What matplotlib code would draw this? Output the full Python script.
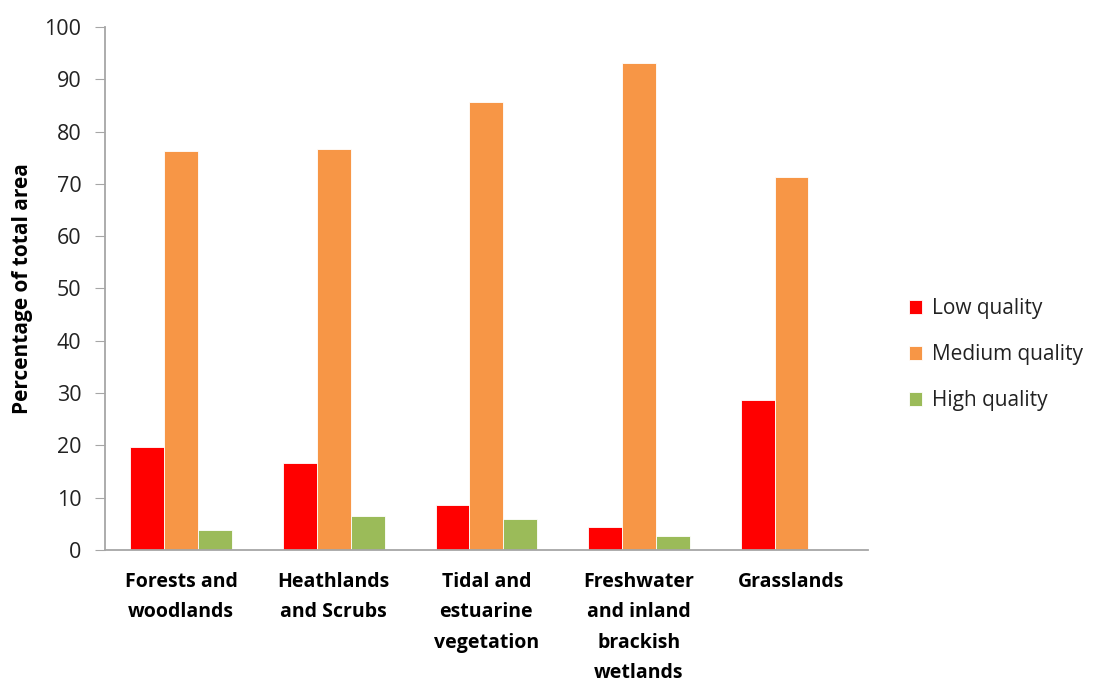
import matplotlib.pyplot as plt
import numpy as np

plt.rcParams['font.family'] = ['Open Sans', 'DejaVu Sans']

habitats = ['Forests and\nwoodlands', 'Heathlands\nand Scrubs', 'Tidal and\nestuarine\nvegetation',
            'Freshwater\nand inland\nbrackish\nwetlands', 'Grasslands']
low_quality = [19.6, 16.6, 8.5, 4.3, 28.7]
medium_quality = [76.2, 76.7, 85.7, 93.1, 71.3]
high_quality = [3.8, 6.4, 5.9, 2.6, 0.0]

series = [('Low quality', low_quality, '#FF0000'),
          ('Medium quality', medium_quality, '#F79646'),
          ('High quality', high_quality, '#9BBB59')]

fig = plt.figure(figsize=(10.93, 6.84), dpi=100)
ax = fig.add_axes([0.096, 0.196, 0.698, 0.7645])

x = np.arange(len(habitats))
w = 0.222
for i, (name, vals, col) in enumerate(series):
    ax.bar(x + (i - 1) * w, vals, w, color=col, edgecolor='white', linewidth=0.6, label=name)

ax.set_xlim(-0.5, len(habitats) - 0.5)
ax.set_ylim(0, 100)
ax.set_yticks(range(0, 101, 10))
ax.set_xticks(x)
ax.set_xticklabels(habitats, fontsize=14, fontweight='bold', linespacing=1.68)
ax.tick_params(axis='x', length=0, pad=16)
ax.tick_params(axis='y', labelsize=15.5, length=7, color='#A6A6A6', pad=10)
for lab in ax.get_yticklabels():
    lab.set_color('#222222')

for s in ['top', 'right']:
    ax.spines[s].set_visible(False)
for s in ['left', 'bottom']:
    ax.spines[s].set_color('#A6A6A6')
    ax.spines[s].set_linewidth(1.3)

ax.set_ylabel('Percentage of total area', fontsize=15, fontweight='bold')
ax.yaxis.set_label_coords(-0.094, 0.5)

leg = ax.legend(loc='center left', bbox_to_anchor=(1.03, 0.373), frameon=False, fontsize=15,
                handlelength=0.6, handleheight=0.6, handletextpad=0.5, labelspacing=1.2)
for t in leg.get_texts():
    t.set_color('#222222')

fig.savefig('out.png', dpi=100)
